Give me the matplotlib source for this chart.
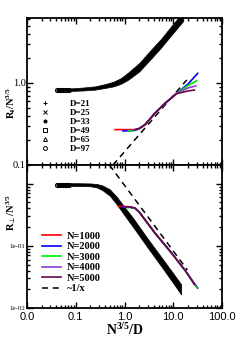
import matplotlib
matplotlib.use("Agg")
import matplotlib.pyplot as plt
from matplotlib.lines import Line2D
from matplotlib.ticker import LogLocator, FixedLocator, FixedFormatter, NullFormatter

plt.rcParams['font.family'] = ['Liberation Serif', 'DejaVu Serif']
plt.rcParams['mathtext.fontset'] = 'custom'
plt.rcParams['mathtext.rm'] = 'Liberation Serif:bold'
plt.rcParams['mathtext.bf'] = 'Liberation Serif:bold'
plt.rcParams['mathtext.default'] = 'rm'

# --- datos ---
# banda negra (todas las D superpuestas), borde inferior y superior
x_band_par = [0.04, 0.08, 0.14, 0.25, 0.4, 0.6, 0.85, 1.2, 2.0, 3.5, 5.6, 9, 16]
lo_band_par = [0.79, 0.80, 0.81, 0.83, 0.87, 0.91, 0.98, 1.10, 1.38, 1.98, 2.70, 3.8, 5.7]
hi_band_par = [0.85, 0.86, 0.88, 0.91, 0.97, 1.04, 1.15, 1.35, 1.75, 2.55, 3.45, 4.9, 7.4]

x_band_perp = [0.04, 0.1, 0.2, 0.27, 0.35, 0.5, 0.7, 1.0, 1.5, 3, 6, 10, 14.5]
lo_band_perp = [0.92, 0.92, 0.91, 0.87, 0.79, 0.64, 0.46, 0.31, 0.20, 0.093, 0.044, 0.025, 0.0165]
hi_band_perp = [1.02, 1.02, 1.01, 0.99, 0.94, 0.81, 0.61, 0.42, 0.28, 0.13, 0.062, 0.036, 0.024]

# circulos abiertos visibles al inicio (D=97)
x_d97 = [0.041, 0.045, 0.049, 0.054, 0.059, 0.065, 0.071]
y_d97_par = [0.82, 0.82, 0.82, 0.82, 0.82, 0.82, 0.82]
y_d97_perp = [0.97, 0.97, 0.97, 0.97, 0.97, 0.97, 0.97]

d_labels = ["D=21", "D=25", "D=33", "D=49", "D=65", "D=97"]

# curvas por N, panel superior (R_par)
x_par_n = {
    1000: [0.64, 1.0, 1.64, 2.0, 2.63, 4.23, 6.77, 11.7],
    2000: [0.93, 1.3, 1.64, 2.0, 2.63, 4.23, 6.77, 11.7, 20, 31.6],
    3000: [1.2, 1.64, 2.0, 2.63, 4.23, 6.77, 11.7, 20, 30.3],
    4000: [1.4, 2.0, 2.63, 4.23, 6.77, 11.7, 20, 28.9],
    5000: [1.6, 2.0, 2.63, 4.23, 6.77, 11.7, 20, 27],
}
y_par_n = {
    1000: [0.27, 0.27, 0.27, 0.28, 0.31, 0.43, 0.565, 0.75],
    2000: [0.26, 0.262, 0.265, 0.278, 0.31, 0.43, 0.565, 0.75, 0.97, 1.31],
    3000: [0.26, 0.264, 0.277, 0.31, 0.43, 0.565, 0.75, 0.93, 1.07],
    4000: [0.265, 0.277, 0.31, 0.43, 0.565, 0.75, 0.87, 0.92],
    5000: [0.268, 0.278, 0.31, 0.43, 0.565, 0.74, 0.80, 0.82],
}
# curvas por N, panel inferior (R_perp)
x_perp_n = {
    1000: [0.75, 1.0, 1.3, 1.64, 2.0, 2.63, 4.23, 9.3],
    2000: [0.9, 1.3, 1.64, 2.0, 2.63, 4.23, 9.3, 18, 31.6],
    3000: [1.1, 1.3, 1.64, 2.0, 2.63, 4.23, 9.3, 18, 30.3],
    4000: [1.0, 1.3, 1.64, 2.0, 2.63, 4.23, 9.3, 18, 28.9],
    5000: [1.0, 1.3, 1.64, 2.0, 2.63, 4.23, 9.3, 18, 27],
}
y_perp_n = {
    1000: [0.43, 0.43, 0.425, 0.405, 0.35, 0.263, 0.16, 0.076],
    2000: [0.42, 0.42, 0.40, 0.35, 0.263, 0.16, 0.076, 0.039, 0.021],
    3000: [0.41, 0.415, 0.40, 0.35, 0.263, 0.16, 0.076, 0.039, 0.0215],
    4000: [0.425, 0.422, 0.405, 0.35, 0.263, 0.16, 0.076, 0.039, 0.0225],
    5000: [0.425, 0.422, 0.405, 0.35, 0.263, 0.16, 0.076, 0.039, 0.024],
}
colores = {1000: '#ff0000', 2000: '#0000ff', 3000: '#00ee00', 4000: '#8a3fd0', 5000: '#670748'}

# rectas guia
x_guide_par = [0.58, 18.9]
y_guide_par = [0.1, 1.09]
x_guide_perp = [0.49, 19.4]
y_guide_perp = [2.0, 0.041]

x_ticks = [0.01, 0.1, 1, 10, 100]
x_ticklabels = ["0.0", "0.1", "1.0", "10.0", "100.0"]

fig = plt.figure(figsize=(2.42, 3.47), dpi=100)
ax1 = fig.add_axes([0.1116, 0.5245, 0.806, 0.4236])
ax2 = fig.add_axes([0.1116, 0.1124, 0.806, 0.4121])

for ax in (ax1, ax2):
    ax.set_xscale('log')
    ax.set_yscale('log')
    ax.set_xlim(0.01, 100)
    ax.tick_params(which='both', direction='in', top=True, right=True, width=1.0)
    ax.tick_params(which='major', length=4)
    ax.tick_params(which='minor', length=2)
    for s in ax.spines.values():
        s.set_linewidth(1.3)
    ax.xaxis.set_major_locator(FixedLocator(x_ticks))
    ax.xaxis.set_minor_locator(LogLocator(base=10, subs=range(2, 10), numticks=20))

# panel superior
ax1.fill_between(x_band_par, lo_band_par, hi_band_par, color='black', lw=0.5)
ax1.plot(x_d97, y_d97_par, 'o', mfc='none', mec='black', ms=3, mew=0.7)
ax1.plot(x_guide_par, y_guide_par, '--', color='black', lw=1.1, dashes=(4, 3))
for n in [1000, 2000, 3000, 4000, 5000]:
    ax1.plot(x_par_n[n], y_par_n[n], color=colores[n], lw=1.2)
ax1.set_ylim(0.1, 6.2)
ax1.yaxis.set_major_locator(FixedLocator([0.1, 1.0]))
ax1.yaxis.set_major_formatter(FixedFormatter(["0.1", "1.0"]))
ax1.yaxis.set_minor_locator(LogLocator(base=10, subs=range(2, 10), numticks=20))
ax1.yaxis.set_minor_formatter(NullFormatter())
ax1.set_xticklabels([])
ax1.xaxis.set_minor_formatter(NullFormatter())
ax1.tick_params(axis='y', labelsize=7.5, pad=1)
ax1.set_ylabel(r'$R_{\|}/N^{3/5}$', fontsize=7.5)
ax1.yaxis.set_label_coords(-0.045, 0.42)

marcadores = [('+', 'black', 3.5), ('x', 'black', 2.5), ('o', 'black', 2.2),
              ('s', 'none', 2.5), ('^', 'none', 2.8), ('o', 'none', 2.8)]
h_d = [Line2D([], [], ls='none', marker=m, mfc=fc, mec='black', color='black', ms=s, mew=0.7)
       for m, fc, s in marcadores]
ax1.legend(h_d, d_labels, loc='upper left', bbox_to_anchor=(0.07, 0.445), frameon=False,
           prop={'weight': 'bold', 'size': 6.5}, handlelength=1.0, handletextpad=2.2,
           labelspacing=0.08, borderpad=0, borderaxespad=0)

# panel inferior
ax2.fill_between(x_band_perp, lo_band_perp, hi_band_perp, color='black', lw=0.5)
ax2.plot(x_d97, y_d97_perp, 'o', mfc='none', mec='black', ms=3, mew=0.7)
h_n = []
for n in [1000, 2000, 3000, 4000, 5000]:
    l, = ax2.plot(x_perp_n[n], y_perp_n[n], color=colores[n], lw=1.2, label="N=%d" % n)
    h_n.append(l)
l, = ax2.plot(x_guide_perp, y_guide_perp, '--', color='black', lw=1.1, dashes=(4, 3), label="~1/x")
h_n.append(l)
ax2.set_ylim(0.01, 2.0)
ax2.yaxis.set_major_locator(FixedLocator([0.01, 0.1, 1.0]))
ax2.yaxis.set_major_formatter(FixedFormatter(["1e-02", "1e-01", ""]))
ax2.yaxis.set_minor_locator(LogLocator(base=10, subs=range(2, 10), numticks=20))
ax2.yaxis.set_minor_formatter(NullFormatter())
ax2.tick_params(axis='y', labelsize=5, pad=1)
ax2.xaxis.set_major_formatter(FixedFormatter(x_ticklabels))
ax2.xaxis.set_minor_formatter(NullFormatter())
for t in ax2.get_xticklabels():
    t.set_family('Liberation Sans')
ax2.tick_params(axis='x', labelsize=8, pad=3)
ax2.set_ylabel(r'$R_{\perp}/N^{3/5}$', fontsize=7.5)
ax2.yaxis.set_label_coords(-0.045, 0.67)
ax2.set_xlabel(r'$N^{3/5}/D$', fontsize=10, labelpad=0)

ax2.legend(handles=h_n, loc='upper left', bbox_to_anchor=(0.075, 0.535), frameon=False,
           prop={'weight': 'bold', 'size': 7.5}, handlelength=1.9, handletextpad=0.5,
           labelspacing=0.12, borderpad=0, borderaxespad=0)

plt.savefig("out.png", dpi=100)
plt.close()
